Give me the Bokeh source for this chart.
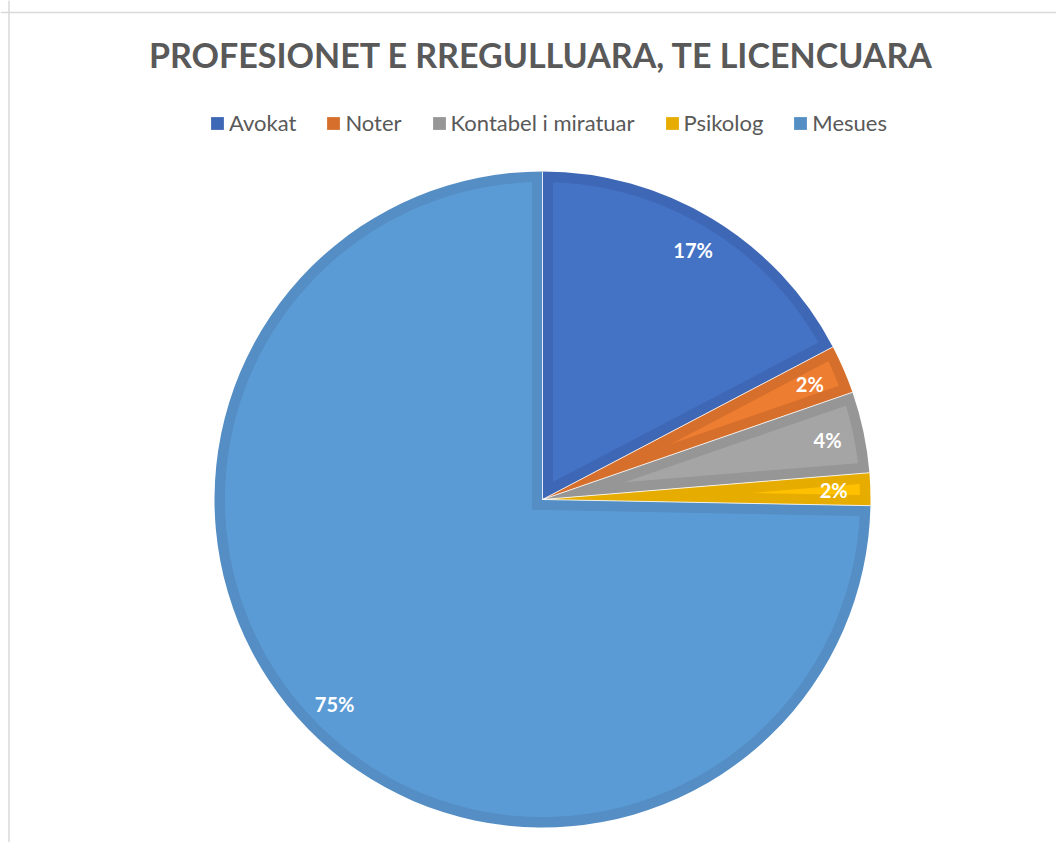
import numpy as np
from bokeh.plotting import figure
from bokeh.models import Range1d, Label, Legend, LegendItem, Span, ColumnDataSource
from bokeh.embed import file_html
from bokeh.resources import INLINE
from bokeh.core.properties import value

# ---- data ----
categories = ["Avokat", "Noter", "Kontabel i miratuar", "Psikolog", "Mesues"]
shares = [17.3, 2.4, 4.0, 1.6, 74.7]
labels = ["17%", "2%", "4%", "2%", "75%"]
fill_colors = ["#4472C4", "#ED7D31", "#A5A5A5", "#FFC000", "#5B9BD5"]
band_colors = ["#3E67B5", "#D66F2B", "#969696", "#E6AC00", "#548EC4"]
title_text = "PROFESIONET E RREGULLUARA, TE LICENCUARA"

# ---- layout ----
W, H = 1056, 842
CX, CY, R, D = 542, 343, 328, 10.5

p = figure(width=W, height=H, x_range=Range1d(0, W), y_range=Range1d(0, H),
           output_backend="svg", toolbar_location=None, min_border=0,
           x_axis_location=None, y_axis_location=None)
p.grid.visible = False
p.outline_line_color = None
p.background_fill_color = "white"

frac = np.array(shares) / sum(shares)
cum = np.concatenate([[0.0], np.cumsum(frac)])
start_clock = np.pi / 2 - cum[:-1] * 2 * np.pi
end_clock = np.pi / 2 - cum[1:] * 2 * np.pi

src = ColumnDataSource(dict(cat=categories, a0=end_clock, a1=start_clock,
                            band=band_colors, fill=fill_colors))
wr = p.wedge(x=CX, y=CY, radius=R, start_angle="a0", end_angle="a1",
             fill_color="band", line_color=None, source=src)


def inset(a1, a2):
    n1 = np.array([-np.sin(a1), np.cos(a1)])
    n2 = np.array([np.sin(a2), -np.cos(a2)])
    P = np.linalg.solve(np.array([n1, n2]), np.array([D, D]))
    t = np.sqrt((R - D) ** 2 - D ** 2)
    b1 = a1 + np.arctan2(D, t)
    b2 = a2 - np.arctan2(D, t)
    arc = np.linspace(b1, b2, 300)
    xs = [CX + P[0]] + list(CX + (R - D) * np.cos(arc))
    ys = [CY + P[1]] + list(CY + (R - D) * np.sin(arc))
    return xs, ys


ixs, iys = [], []
for a0, a1 in zip(end_clock, start_clock):
    xs, ys = inset(a0, a1)
    ixs.append(xs)
    iys.append(ys)
p.patches(xs=ixs, ys=iys, fill_color=fill_colors, line_color=None)

# thin separators between slices
bounds = start_clock
p.segment(x0=[CX] * len(bounds), y0=[CY] * len(bounds),
          x1=CX + R * np.cos(bounds), y1=CY + R * np.sin(bounds),
          line_color="white", line_alpha=0.8, line_width=1)

# data labels
mid = (start_clock + end_clock) / 2
LR = 0.888 * R
p.text(x=CX + LR * np.cos(mid), y=CY + LR * np.sin(mid), text=labels,
       text_align="center", text_baseline="middle",
       text_font=value("Lato"), text_font_style="bold",
       text_font_size="20px", text_color="white")

# title
p.add_layout(Label(x=541, y=788, text=title_text, text_align="center",
                   text_baseline="middle", text_font="Lato",
                   text_font_style="bold", text_font_size="34px",
                   text_color="#595959"))

# legend
items = [LegendItem(label=c, renderers=[wr], index=i) for i, c in enumerate(categories)]
legend = Legend(items=items, orientation="horizontal", location=(209, 706),
                glyph_width=16, glyph_height=16, label_standoff=4, spacing=29,
                padding=0, margin=0, border_line_color=None,
                background_fill_alpha=0, label_text_font="Lato",
                label_text_font_size="22px", label_text_color="#595959",
                label_height=16)
p.add_layout(legend)

# chart border (top & left visible)
p.add_layout(Span(location=8.5, dimension="height", line_color="#D9D9D9", line_width=1.5))
p.add_layout(Span(location=H - 12, dimension="width", line_color="#D9D9D9", line_width=1.5))

open("out.html", "w").write(file_html(p, INLINE))
